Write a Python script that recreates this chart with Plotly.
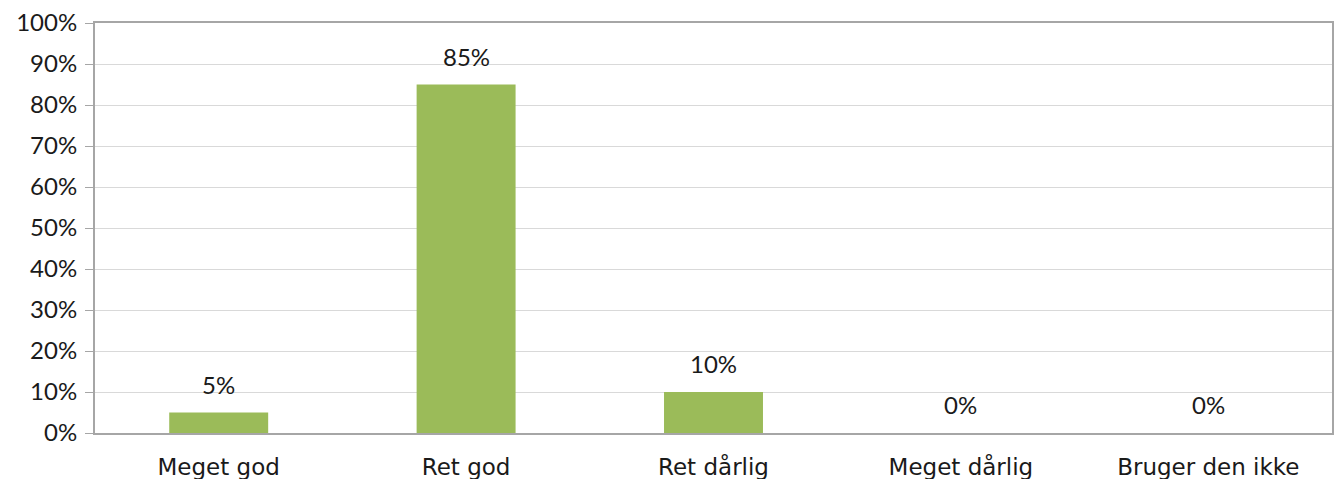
import plotly.graph_objects as go

categories = ["Meget god", "Ret god", "Ret dårlig", "Meget dårlig", "Bruger den ikke"]
values = [5, 85, 10, 0, 0]
y_ticks = [0, 10, 20, 30, 40, 50, 60, 70, 80, 90, 100]
y_tick_labels = [f"{v}%" for v in y_ticks]

NUM_FONT = "Lato, sans-serif"
CAT_FONT = "DejaVu Sans, sans-serif"
GREEN = "#9BBB59"
TXT = "#1a1a1a"

fig = go.Figure()
fig.add_trace(go.Bar(
    x=categories, y=values, marker=dict(color=GREEN, line=dict(width=0)),
    hoverinfo="skip",
))

for c, v in zip(categories, values):
    fig.add_annotation(x=c, y=v, text=f"{v}%", showarrow=False, yanchor="bottom",
                       yshift=12, font=dict(family=NUM_FONT, size=24, color=TXT))

fig.update_layout(
    width=1340, height=479,
    margin=dict(l=95, r=8, t=23, b=46),
    paper_bgcolor="white", plot_bgcolor="white",
    bargap=0.6, showlegend=False,
    font=dict(family=NUM_FONT, size=24, color=TXT),
)
fig.update_xaxes(
    automargin=False,
    showline=True, linecolor="#A6A6A6", linewidth=2, mirror=True,
    ticks="", ticklabelstandoff=12, tickfont=dict(size=23, family=CAT_FONT, color=TXT),
    showgrid=False,
)
fig.update_yaxes(
    automargin=False,
    range=[0, 100], tickvals=y_ticks, ticktext=y_tick_labels,
    showline=True, linecolor="#A6A6A6", linewidth=2, mirror=True,
    ticks="outside", ticklen=8, tickcolor="#A6A6A6", tickwidth=1,
    showgrid=True, gridcolor="#D9D9D9", gridwidth=1,
    tickfont=dict(size=24, family=NUM_FONT, color=TXT), ticklabelstandoff=3,
    zeroline=False,
)

fig.write_html("out.html", config={"displayModeBar": False},
               post_script="document.body.style.margin='0';document.body.style.overflow='hidden';")
